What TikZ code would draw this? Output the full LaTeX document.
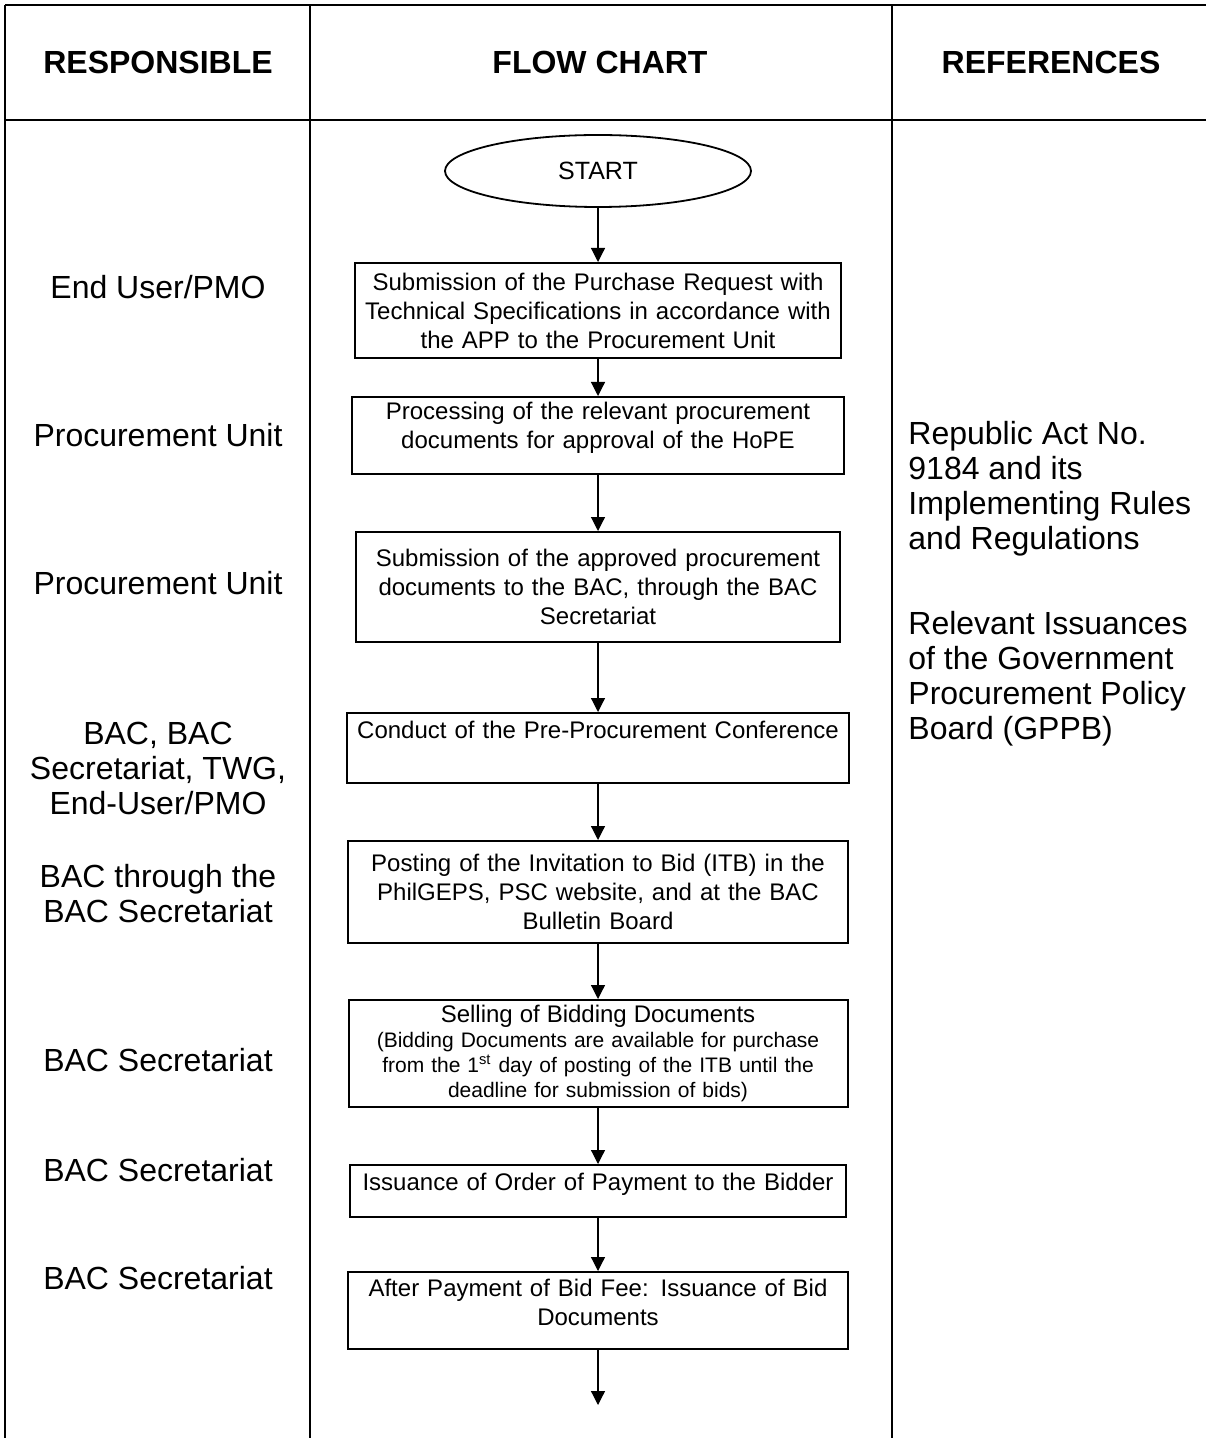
\documentclass[tikz,border=0pt]{standalone}
\usepackage{fontspec}
\setmainfont{Liberation Sans}
\usepackage{tikz}
\usetikzlibrary{arrows.meta,shapes.geometric}
\newcommand\smallfs{\fontsize{10.5}{12.5}\selectfont}

\begin{document}
\begin{tikzpicture}[x=0.5pt, y=-0.5pt,
  tbl/.style={line width=1.1pt},
  hd/.style={font=\bfseries\fontsize{16}{18}\selectfont},
  who/.style={align=center, font=\fontsize{16}{17.5}\selectfont},
  refs/.style={align=left, anchor=west, inner sep=0pt, font=\fontsize{16}{17.5}\selectfont},
  stepbox/.style={draw, line width=1pt, align=center, inner sep=0pt, font=\fontsize{12}{14.5}\selectfont},
  arr/.style={line width=0.6pt, -{Triangle[length=7pt,width=7pt]}}]
	\useasboundingbox (0,0) rectangle (1206,1438);
	% table
	\draw[tbl] (5,5) -- (1206,5);
	\draw[tbl] (5,120) -- (1206,120);
	\foreach \x in {5,310,892}
	\draw[tbl] (\x,5) -- (\x,1438);
	\node[hd] (hresp) at (158,62) {RESPONSIBLE};
	\node[hd] (hflow) at (600,62) {FLOW CHART};
	\node[hd] (hrefs) at (1051,62) {REFERENCES};
	% responsible
	\node[who] (w1) at (158,287) {End User/PMO};
	\node[who] (w2) at (158,435) {Procurement Unit};
	\node[who] (w3) at (158,583) {Procurement Unit};
	\node[who] (w4) at (158,768) {BAC, BAC\\Secretariat, TWG,\\End-User/PMO};
	\node[who] (w5) at (158,894) {BAC through the\\BAC Secretariat};
	\node[who] (w6) at (158,1060) {BAC Secretariat};
	\node[who] (w7) at (158,1170) {BAC Secretariat};
	\node[who] (w8) at (158,1278) {BAC Secretariat};
	% references
	\node[refs] (ra) at (908,488.5) {Republic Act No.\\9184 and its\\Implementing Rules\\and Regulations};
	\node[refs] (rb) at (908,678.5) {Relevant Issuances\\of the Government\\Procurement Policy\\Board (GPPB)};
	% flow chart
	\node[draw, ellipse, line width=0.9pt, minimum width=153pt, minimum height=36pt, inner sep=0pt,
	  font=\fontsize{12.5}{14}\selectfont] (start) at (598,171) {START};
	\node[stepbox, text width=243pt, minimum height=47.5pt] (s1) at (598,310.5)
	  {Submission of the Purchase Request with\\Technical Specifications in accordance with\\the APP to the Procurement Unit};
	\node[stepbox, text width=246pt, minimum height=38.5pt, text depth=24.5pt] (s2) at (598,435.5)
	  {Processing of the relevant procurement\\documents for approval of the HoPE};
	\node[stepbox, text width=242pt, minimum height=55pt] (s3) at (598,587)
	  {Submission of the approved procurement\\documents to the BAC, through the BAC\\Secretariat};
	\node[stepbox, text width=251pt, minimum height=35pt, text height=9pt, text depth=19pt] (s4) at (598,748)
	  {Conduct of the Pre-Procurement Conference};
	\node[stepbox, text width=250pt, minimum height=51pt] (s5) at (598,892)
	  {Posting of the Invitation to Bid (ITB) in the\\PhilGEPS, PSC website, and at the BAC\\Bulletin Board};
	\node[stepbox, text width=249.5pt, minimum height=53.5pt, font=\smallfs] (s6) at (598,1053.5)
	  {{\fontsize{12}{12.5}\selectfont Selling of Bidding Documents}\\(Bidding Documents are available for purchase\\from the 1\textsuperscript{st} day of posting of the ITB until the\\deadline for submission of bids)};
	\node[stepbox, text width=248pt, minimum height=26pt, text height=9pt, text depth=10pt] (s7) at (598,1191)
	  {Issuance of Order of Payment to the Bidder};
	\node[stepbox, text width=250pt, minimum height=38.5pt, text depth=23pt] (s8) at (598,1310.5)
	  {After Payment of Bid Fee: Issuance of Bid\\Documents};
	\coordinate (tail) at (598,1405);
	\foreach \a/\b in {start/s1,s1/s2,s2/s3,s3/s4,s4/s5,s5/s6,s6/s7,s7/s8,s8/tail}
	\draw[arr] (\a) -- (\b);
\end{tikzpicture}
\end{document}
